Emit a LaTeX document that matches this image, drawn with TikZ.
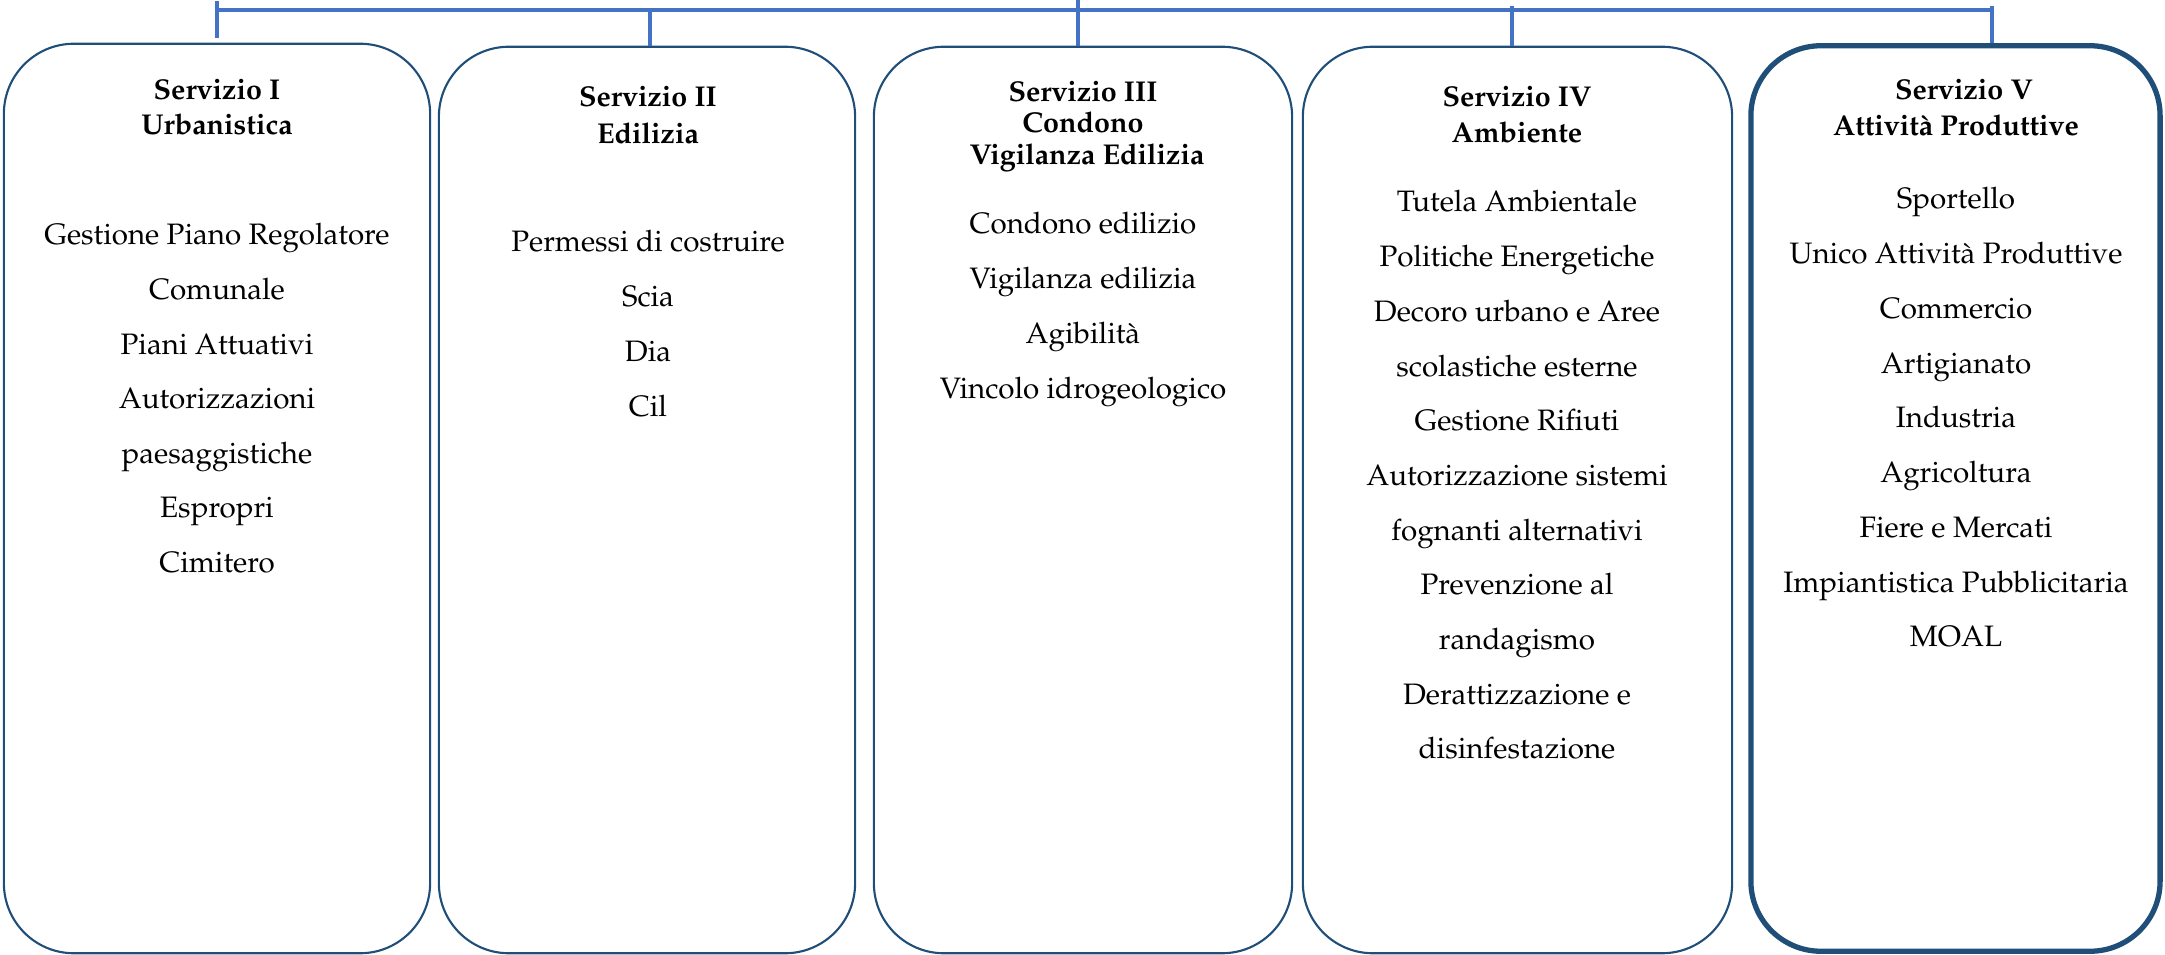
\documentclass[tikz,border=0pt]{standalone}
\usepackage[T1]{fontenc}
\usepackage{mathpazo}
\definecolor{boxblue}{RGB}{31,78,121}
\definecolor{busblue}{RGB}{68,114,196}
\begin{document}
\begin{tikzpicture}[x=0.01cm, y=-0.01cm,
  box/.style={draw=boxblue, line width=0.6pt, rounded corners=0.7cm, inner sep=0pt, minimum height=9.06cm},
  hd/.style={font=\fontsize{8.15}{9}\selectfont\bfseries, anchor=base, inner sep=0pt},
  it/.style={font=\fontsize{8.4}{10}\selectfont, anchor=base, inner sep=0pt},
  bus/.style={draw=busblue, line width=1pt}]
\useasboundingbox (0,0) rectangle (2165,955);

% boxes
\node[box, minimum width=4.26cm, minimum height=9.09cm] (b1) at (217,498.5) {};
\node[box, minimum width=4.16cm] (b2) at (647,500) {};
\node[box, minimum width=4.18cm] (b3) at (1083,500) {};
\node[box, minimum width=4.29cm] (b4) at (1517.5,500) {};
\node[box, line width=1.5pt, minimum width=4.09cm, minimum height=9.05cm] (b5) at (1955.5,498.5) {};

% bus
\coordinate (j1) at (217,10);
\coordinate (j2) at (650,10);
\coordinate (j3) at (1078,10);
\coordinate (j4) at (1512,10);
\coordinate (j5) at (1992,10);
\coordinate (t1) at (217,1);
\coordinate (e1) at (217,38);
\coordinate (t3) at (1078,0);
\draw[bus] (j1) -- ([xshift=0.5pt]j5);
\draw[bus] (t1) -- (e1);
\draw[bus] (j2) -- (j2 |- b2.north);
\draw[bus] (t3) -- (t3 |- b3.north);
\draw[bus] ([yshift=1pt]j4) -- (j4 |- b4.north);
\draw[bus] ([yshift=1pt]j5) -- (j5 |- b5.north);

% Servizio I
\node[hd] (h1a) at (217,100) {Servizio I};
\node[hd] (h1b) at (217,135) {Urbanistica};
\foreach \t [count=\i from 0] in {Gestione Piano Regolatore, Comunale, Piani Attuativi, Autorizzazioni, paesaggistiche, Espropri, Cimitero}
  \node[it] (b1i\i) at (217,{245+\i*54.6}) {\t};

% Servizio II
\node[hd] (h2a) at (648,107) {Servizio II};
\node[hd] (h2b) at (648,144) {Edilizia};
\foreach \t [count=\i from 0] in {Permessi di costruire, Scia, Dia, Cil}
  \node[it] (b2i\i) at (648,{252+\i*54.8}) {\t};

% Servizio III
\node[hd] (h3a) at (1083,102) {Servizio III};
\node[hd] (h3b) at (1083,133) {Condono};
\node[hd] (h3c) at (1087,165) {Vigilanza Edilizia};
\foreach \t [count=\i from 0] in {Condono edilizio, Vigilanza edilizia, Agibilit\`a, Vincolo idrogeologico}
  \node[it] (b3i\i) at (1083,{234+\i*54.7}) {\t};

% Servizio IV
\node[hd] (h4a) at (1517,107) {Servizio IV};
\node[hd] (h4b) at (1517,143) {Ambiente};
\foreach \t [count=\i from 0] in {Tutela Ambientale, Politiche Energetiche, Decoro urbano e Aree, scolastiche esterne, Gestione Rifiuti, Autorizzazione sistemi, fognanti alternativi, Prevenzione al, randagismo, Derattizzazione e, disinfestazione}
  \node[it] (b4i\i) at (1517,{212+\i*54.7}) {\t};

% Servizio V
\node[hd] (h5a) at (1964,100) {Servizio V};
\node[hd] (h5b) at (1956,136) {Attivit\`a Produttive};
\foreach \t [count=\i from 0] in {Sportello, Unico Attivit\`a Produttive, Commercio, Artigianato, Industria, Agricoltura, Fiere e Mercati, Impiantistica Pubblicitaria, MOAL}
  \node[it] (b5i\i) at (1956,{209+\i*54.75}) {\t};
\end{tikzpicture}
\end{document}
